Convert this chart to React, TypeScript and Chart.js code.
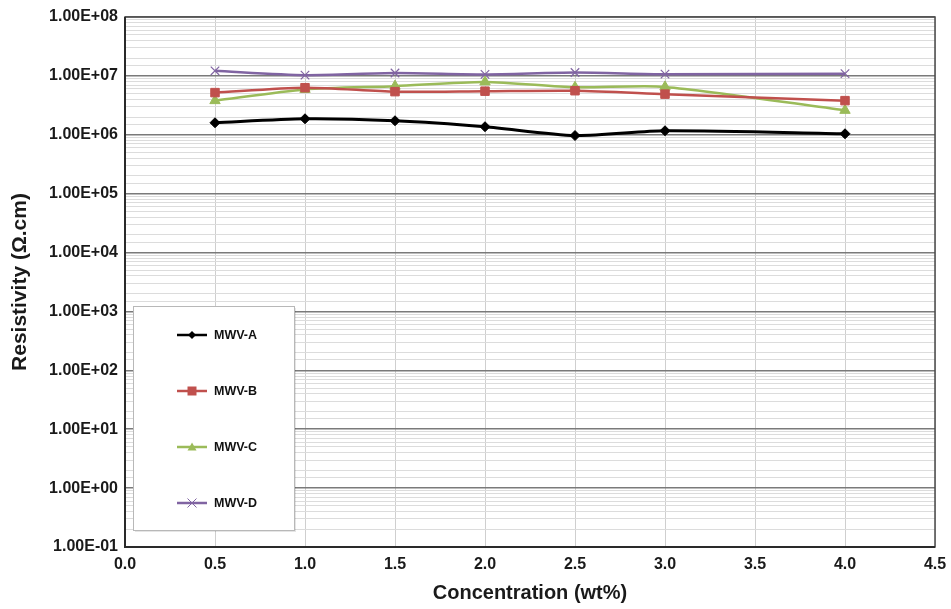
import React, { useEffect, useRef } from "react";
import { Chart, registerables } from "chart.js";

Chart.register(...registerables);

const concentrations = [0.5, 1.0, 1.5, 2.0, 2.5, 3.0, 4.0];
const mwvA = [1.6e6, 1.87e6, 1.73e6, 1.37e6, 0.97e6, 1.17e6, 1.04e6];
const mwvB = [5.2e6, 6.3e6, 5.4e6, 5.5e6, 5.6e6, 4.9e6, 3.8e6];
const mwvC = [3.8e6, 5.9e6, 6.7e6, 7.9e6, 6.4e6, 6.5e6, 2.6e6];
const mwvD = [12.2e6, 10.3e6, 11.2e6, 10.6e6, 11.4e6, 10.7e6, 10.9e6];
const seriesNames = ["MWV-A", "MWV-B", "MWV-C", "MWV-D"];
const xTitle = "Concentration (wt%)";
const yTitle = "Resistivity (\u03A9.cm)";

const FONT = "'Liberation Sans', Arial, sans-serif";

const colors = ["#000000", "#c0504d", "#9bbb59", "#8064a2"];
const markers = ["rectRot", "rect", "triangle", "crossRot"];
const radii = [5, 6, 6, 6];

function fmtExp(v: number): string {
  const e = Math.round(Math.log10(v));
  const sign = e < 0 ? "-" : "+";
  const a = Math.abs(e);
  return "1.00E" + sign + (a < 10 ? "0" + a : "" + a);
}

function isMajor(v: number): boolean {
  const l = Math.log10(v);
  return Math.abs(l - Math.round(l)) < 1e-9;
}

function drawMarker(ctx: CanvasRenderingContext2D, style: string, x: number, y: number, r: number, color: string) {
  ctx.save();
  ctx.fillStyle = color;
  ctx.strokeStyle = color;
  ctx.beginPath();
  if (style === "rectRot") {
    ctx.moveTo(x, y - r);
    ctx.lineTo(x + r, y);
    ctx.lineTo(x, y + r);
    ctx.lineTo(x - r, y);
    ctx.closePath();
    ctx.fill();
  } else if (style === "rect") {
    ctx.rect(x - r, y - r, 2 * r, 2 * r);
    ctx.fill();
  } else if (style === "triangle") {
    ctx.moveTo(x, y - r);
    ctx.lineTo(x + r, y + r * 0.75);
    ctx.lineTo(x - r, y + r * 0.75);
    ctx.closePath();
    ctx.fill();
  } else {
    ctx.lineWidth = 1;
    ctx.moveTo(x - r, y - r);
    ctx.lineTo(x + r, y + r);
    ctx.moveTo(x + r, y - r);
    ctx.lineTo(x - r, y + r);
    ctx.stroke();
  }
  ctx.restore();
}

const framePlugin = {
  id: "frame",
  afterDatasetsDraw(chart: any) {
    const { ctx, chartArea } = chart;
    const { left, right, top, bottom } = chartArea;
    ctx.save();
    ctx.strokeStyle = "#4a4a4a";
    ctx.lineWidth = 1.5;
    ctx.strokeRect(left, top, right - left, bottom - top);
    ctx.strokeStyle = "#2a2a2a";
    ctx.lineWidth = 2;
    ctx.beginPath();
    ctx.moveTo(left, top);
    ctx.lineTo(left, bottom);
    ctx.lineTo(right, bottom);
    ctx.stroke();

    // legend box
    const bx = 133, by = 306, bw = 161, bh = 224;
    ctx.fillStyle = "rgba(0,0,0,0.10)";
    ctx.fillRect(bx + 2, by + 2, bw, bh);
    ctx.fillStyle = "#ffffff";
    ctx.fillRect(bx, by, bw, bh);
    ctx.strokeStyle = "#b8b8b8";
    ctx.lineWidth = 1;
    ctx.strokeRect(bx + 0.5, by + 0.5, bw, bh);

    const ys = [335, 391, 447, 503];
    chart.data.datasets.forEach((ds: any, i: number) => {
      const y = ys[i];
      ctx.strokeStyle = colors[i];
      ctx.lineWidth = 2.5;
      ctx.beginPath();
      ctx.moveTo(177, y);
      ctx.lineTo(207, y);
      ctx.stroke();
      const r = i === 0 ? 4 : 4.5;
      drawMarker(ctx, markers[i], 192, y, r, colors[i]);
      ctx.fillStyle = "#111";
      ctx.font = "bold 12.5px " + FONT;
      ctx.textBaseline = "middle";
      ctx.textAlign = "left";
      ctx.fillText(ds.label, 214, y + 1);
    });
    ctx.restore();
  },
};

export default function App() {
  const ref = useRef<HTMLCanvasElement>(null);

  useEffect(() => {
    if (!ref.current) return;
    const all = [mwvA, mwvB, mwvC, mwvD];
    const chart = new Chart(ref.current, {
      type: "line",
      data: {
        datasets: all.map((vals, i) => ({
          label: seriesNames[i],
          data: concentrations.map((x, j) => ({ x, y: vals[j] })),
          borderColor: colors[i],
          backgroundColor: colors[i],
          borderWidth: i === 0 ? 3 : 2.5,
          pointStyle: markers[i] as any,
          pointRadius: radii[i],
          pointBorderWidth: i === 3 ? 1.2 : 1,
          pointBorderColor: colors[i],
          pointBackgroundColor: colors[i],
          tension: 0.25,
          fill: false,
        })),
      },
      options: {
        animation: false,
        responsive: false,
        maintainAspectRatio: false,
        layout: { padding: { top: 17, right: 16, left: 0, bottom: 0 } },
        plugins: {
          legend: { display: false },
          tooltip: { enabled: false },
        },
        scales: {
          x: {
            type: "linear",
            min: 0,
            max: 4.5,
            afterFit: (s: any) => {
              s.height = 62;
              s.paddingRight = 0;
              s.paddingLeft = 0;
            },
            ticks: {
              stepSize: 0.5,
              padding: 8,
              color: "#1a1a1a",
              font: { family: FONT, size: 16, weight: "bold" },
              callback: (v: any) => Number(v).toFixed(1),
              maxRotation: 0,
            },
            grid: { color: "#cfcfcf", lineWidth: 1, drawTicks: false },
            border: { display: false },
            title: {
              display: true,
              text: xTitle,
              color: "#1a1a1a",
              font: { family: FONT, size: 20, weight: "bold" },
              padding: { top: 0, bottom: 4 },
            },
          },
          y: {
            type: "logarithmic",
            min: 0.1,
            max: 1e8,
            afterFit: (s: any) => {
              s.width = 125;
            },
            ticks: {
              autoSkip: false,
              padding: 7,
              color: "#1a1a1a",
              font: { family: FONT, size: 16, weight: "bold" },
              callback: (v: any) => (isMajor(Number(v)) ? fmtExp(Number(v)) : ""),
            },
            grid: {
              drawTicks: false,
              color: (c: any) => (c.tick && isMajor(c.tick.value) ? "#7a7a7a" : "#dcdcdc"),
              lineWidth: (c: any) => (c.tick && isMajor(c.tick.value) ? 1.5 : 1),
            },
            border: { display: false },
            title: {
              display: true,
              text: yTitle,
              color: "#1a1a1a",
              font: { family: FONT, size: 21, weight: "bold" },
              padding: { top: 8, bottom: 0 },
            },
          },
        },
      },
      plugins: [framePlugin],
    });
    return () => chart.destroy();
  }, []);

  return (
    <div style={{ position: "absolute", left: 0, top: 0, width: 951, height: 609, background: "#fff" }}>
      <canvas ref={ref} width={951} height={609} />
    </div>
  );
}
